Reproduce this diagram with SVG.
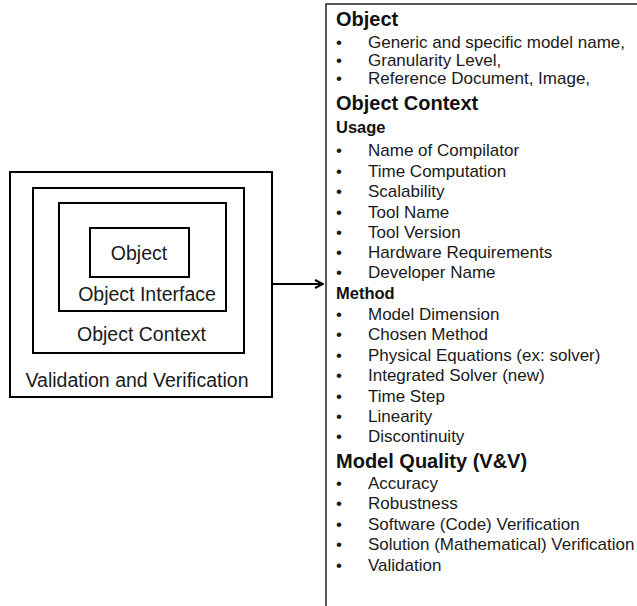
<svg xmlns="http://www.w3.org/2000/svg" width="637" height="606" viewBox="0 0 637 606">
<defs>
<style>
.box{fill:none;stroke:#000;stroke-width:2}
.lbl{font-family:"Liberation Sans",Arial,sans-serif;font-size:19.5px;fill:#1a1a1a;text-anchor:middle}
.h1{font-family:"Liberation Sans",Arial,sans-serif;font-size:20px;font-weight:bold;fill:#111}
.h2{font-family:"Liberation Sans",Arial,sans-serif;font-size:16.5px;font-weight:bold;fill:#111}
.it{font-family:"Liberation Sans",Arial,sans-serif;font-size:17px;fill:#1a1a1a}
</style>
<marker id="arr" viewBox="0 0 10 10" refX="9" refY="5" markerWidth="10" markerHeight="10" markerUnits="userSpaceOnUse" orient="auto">
<path d="M1,1 L9,5 L1,9" fill="none" stroke="#000" stroke-width="2"/>
</marker>
</defs>
<rect width="637" height="606" fill="#fff"/>
<g id="vv"><rect class="box" x="10" y="172" width="262" height="225"/><text class="lbl" x="137" y="387">Validation and Verification</text></g>
<g id="context"><rect class="box" x="33" y="188" width="211" height="165"/><text class="lbl" x="141.5" y="341">Object Context</text></g>
<g id="interface"><rect class="box" x="59" y="203" width="167" height="108"/><text class="lbl" x="147" y="301">Object Interface</text></g>
<g id="object"><rect class="box" x="90" y="228" width="99" height="49"/><text class="lbl" x="139" y="260">Object</text></g>
<g id="connectors"><line x1="273" y1="284" x2="323" y2="284" stroke="#000" stroke-width="2" marker-end="url(#arr)"/></g>
<g id="details">
<rect x="326" y="4" width="320" height="620" fill="none" stroke="#222" stroke-width="1.5"/>
<text class="h1" x="336" y="26">Object</text>
<g class="it">
<text x="336" y="48">•</text><text x="368" y="48">Generic and specific model name,</text>
<text x="336" y="66">•</text><text x="368" y="66">Granularity Level,</text>
<text x="336" y="84">•</text><text x="368" y="84">Reference Document, Image,</text>
</g>
<text class="h1" x="336" y="110">Object Context</text>
<text class="h2" x="336" y="133">Usage</text>
<g class="it">
<text x="336" y="156">•</text><text x="368" y="156">Name of Compilator</text>
<text x="336" y="177">•</text><text x="368" y="177">Time Computation</text>
<text x="336" y="197">•</text><text x="368" y="197">Scalability</text>
<text x="336" y="218">•</text><text x="368" y="218">Tool Name</text>
<text x="336" y="238">•</text><text x="368" y="238">Tool Version</text>
<text x="336" y="258">•</text><text x="368" y="258">Hardware Requirements</text>
<text x="336" y="278">•</text><text x="368" y="278">Developer Name</text>
</g>
<text class="h2" x="336" y="299">Method</text>
<g class="it">
<text x="336" y="320">•</text><text x="368" y="320">Model Dimension</text>
<text x="336" y="340">•</text><text x="368" y="340">Chosen Method</text>
<text x="336" y="361">•</text><text x="368" y="361">Physical Equations (ex:  solver)</text>
<text x="336" y="381">•</text><text x="368" y="381">Integrated Solver (new)</text>
<text x="336" y="402">•</text><text x="368" y="402">Time Step</text>
<text x="336" y="422">•</text><text x="368" y="422">Linearity</text>
<text x="336" y="442">•</text><text x="368" y="442">Discontinuity</text>
</g>
<text class="h1" x="336" y="468">Model Quality (V&amp;V)</text>
<g class="it">
<text x="336" y="489">•</text><text x="368" y="489">Accuracy</text>
<text x="336" y="509">•</text><text x="368" y="509">Robustness</text>
<text x="336" y="530">•</text><text x="368" y="530">Software (Code) Verification</text>
<text x="336" y="550">•</text><text x="368" y="550">Solution (Mathematical) Verification</text>
<text x="336" y="571">•</text><text x="368" y="571">Validation</text>
</g>
</g>
</svg>
